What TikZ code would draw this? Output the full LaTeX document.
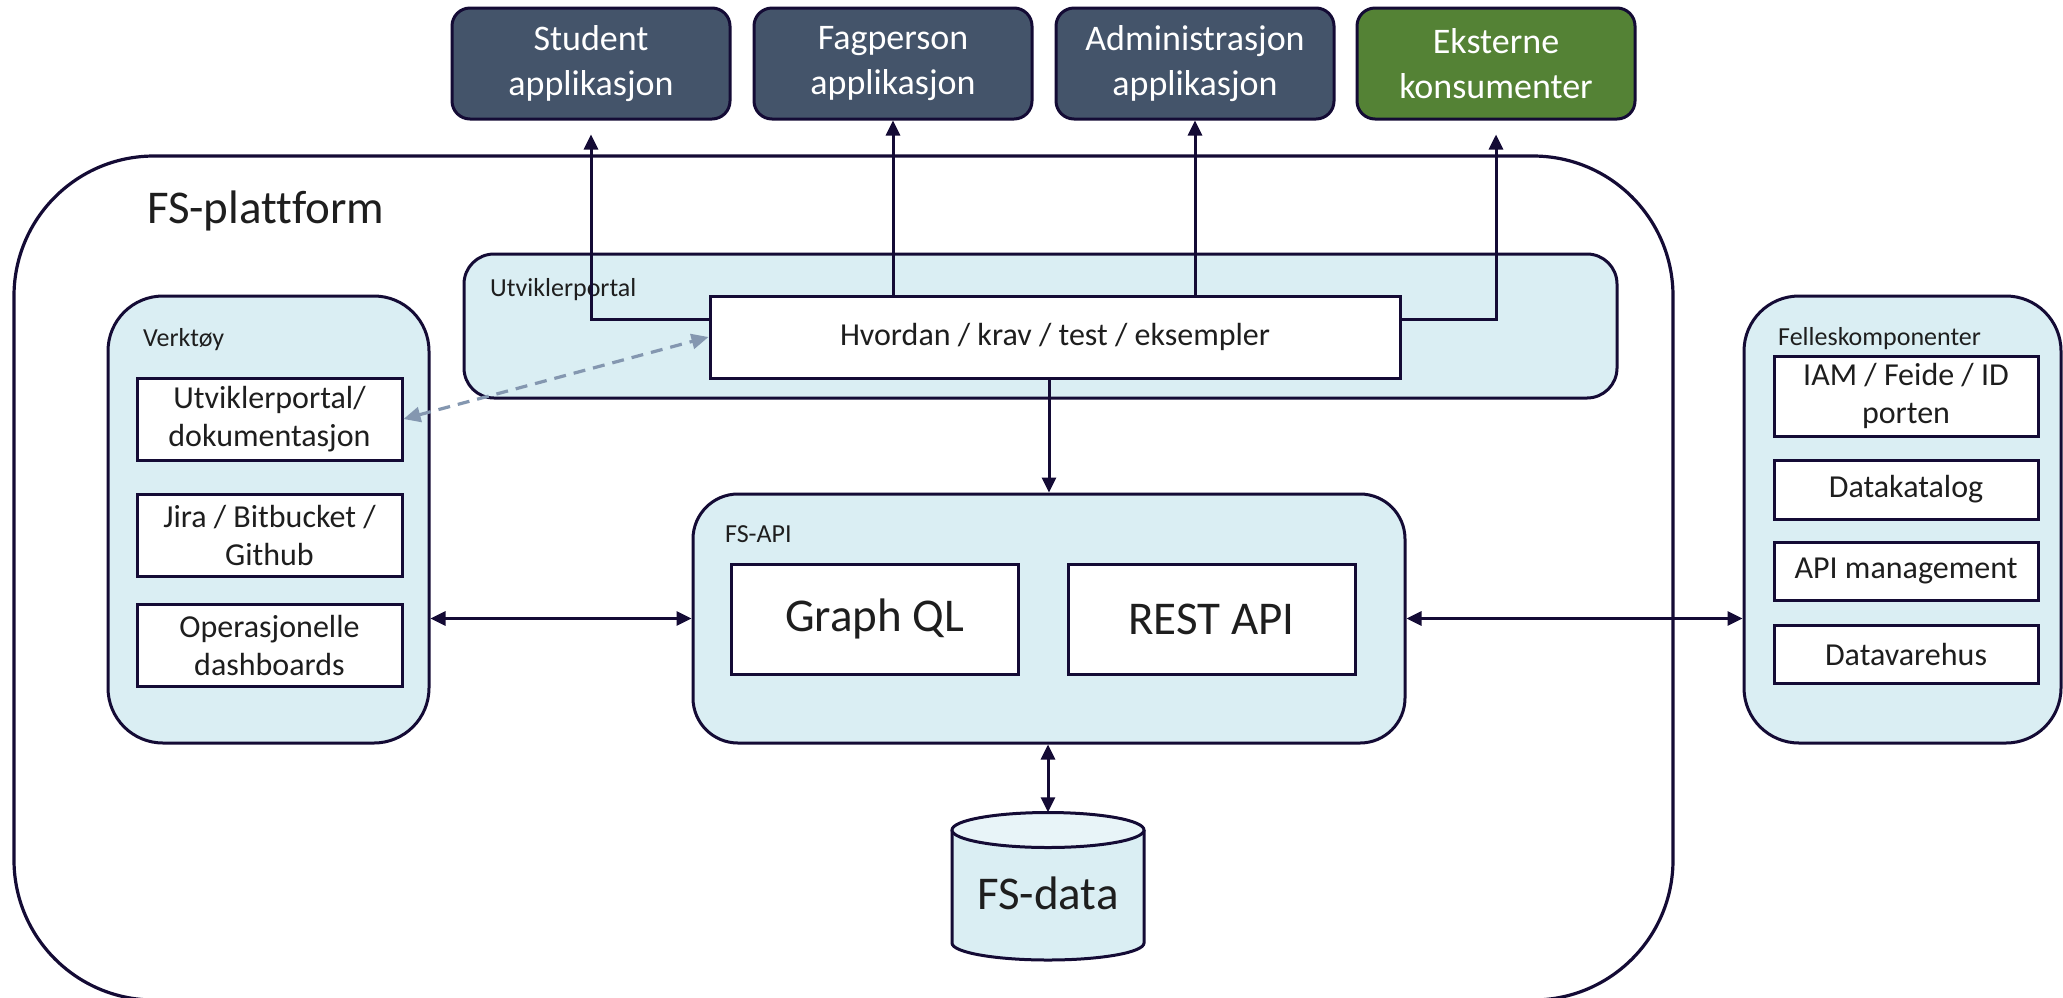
\documentclass[tikz,border=0pt]{standalone}
\usepackage{fontspec}
\setmainfont{Carlito}[Ligatures=NoCommon]
\usetikzlibrary{arrows.meta,calc}
\definecolor{linec}{HTML}{140B35}
\definecolor{slate}{HTML}{44546A}
\definecolor{grn}{HTML}{548235}
\definecolor{lightb}{HTML}{DAEEF3}
\definecolor{toplight}{HTML}{E8F4F8}
\definecolor{dashc}{HTML}{8497B0}
\definecolor{txt}{HTML}{1E1E1E}
\tikzset{
  outerbox/.style={draw=linec, line width=3.2pt, rounded corners=140pt, inner sep=0pt},
  groupbox/.style={draw=linec, fill=lightb, line width=3pt, inner sep=0pt},
  wbox/.style={draw=linec, fill=white, line width=3pt, inner sep=0pt, text=txt,
    font=\fontsize{32}{38}\selectfont, align=center},
  bigbox/.style={wbox, font=\fontsize{47}{56}\selectfont},
  appbox/.style={draw=linec, line width=3pt, rounded corners=18pt, inner sep=0pt,
    text=white, font=\fontsize{36}{45}\selectfont, align=center,
    minimum width=278pt, minimum height=111pt},
  grplabel/.style={anchor=west, inner sep=0pt, text=txt, font=\fontsize{26}{30}\selectfont},
  arr/.style={draw=linec, line width=3pt, -{Triangle[length=15pt,width=14pt]}},
  biarr/.style={draw=linec, line width=3pt, {Triangle[length=15pt,width=14pt]}-{Triangle[length=15pt,width=14pt]}},
  dasharr/.style={draw=dashc, line width=3.2pt, dash pattern=on 12pt off 8pt,
    {Triangle[length=17pt,width=15pt]}-{Triangle[length=17pt,width=15pt]}},
}
\begin{document}
\begin{tikzpicture}[x=1pt,y=1pt]
\useasboundingbox (0,0) rectangle (2063,-997);
\fill[white] (0,0) rectangle (2063,-997);

% outer platform
\node[outerbox, minimum width=1659pt, minimum height=844pt] (plattform) at (843.5,-578) {};
\node[anchor=base west, inner sep=0pt, text=txt, font=\fontsize{47}{56}\selectfont] (plattlbl) at (147,-223) {FS-plattform};

% top application boxes
\node[appbox, fill=slate] (student) at (591,-63.5) {Student\\applikasjon};
\node[appbox, fill=slate] (fag) at (893,-63.5) {Fagperson\\applikasjon};
\node[appbox, fill=slate] (admin) at (1195,-63.5) {Administrasjon\\applikasjon};
\node[appbox, fill=grn] (ekst) at (1496,-63.5) {Eksterne\\konsumenter};

% Utviklerportal
\node[groupbox, rounded corners=30pt, minimum width=1153pt, minimum height=144pt] (utv) at (1040.5,-326) {};
\node[grplabel] (utvlbl) at (490,-290) {Utviklerportal};
\node[wbox, minimum width=690pt, minimum height=82pt] (hv) at (1055,-337) {Hvordan / krav / test / eksempler};

% Verktøy
\node[groupbox, rounded corners=55pt, minimum width=321pt, minimum height=447pt] (verk) at (268.5,-519.5) {};
\node[grplabel] (verklbl) at (143,-340) {Verktøy};
\node[wbox, minimum width=265pt, minimum height=82pt] (doc) at (269.5,-419) {Utviklerportal/\\dokumentasjon};
\node[wbox, minimum width=265pt, minimum height=82pt] (jira) at (269.5,-535) {Jira / Bitbucket /\\Github};
\node[wbox, minimum width=265pt, minimum height=82pt] (ops) at (269.5,-645) {Operasjonelle\\dashboards};

% FS-API
\node[groupbox, rounded corners=45pt, minimum width=712pt, minimum height=249pt] (api) at (1049,-618.5) {};
\node[grplabel] (apilbl) at (725,-534) {FS-API};
\node[bigbox, minimum width=287pt, minimum height=110pt] (gql) at (874.5,-619) {Graph QL};
\node[bigbox, minimum width=287pt, minimum height=110pt] (rest) at (1211.5,-619) {REST API};

% Felleskomponenter
\node[groupbox, rounded corners=55pt, minimum width=317pt, minimum height=447pt] (felles) at (1902.5,-519.5) {};
\node[grplabel] (felleslbl) at (1778,-339) {Felleskomponenter};
\node[wbox, minimum width=264pt, minimum height=80pt] (iam) at (1906,-396) {IAM / Feide / ID\\porten};
\node[wbox, minimum width=264pt, minimum height=59pt] (katalog) at (1906,-489.5) {Datakatalog};
\node[wbox, minimum width=264pt, minimum height=58pt] (apim) at (1906,-571) {API management};
\node[wbox, minimum width=264pt, minimum height=58pt] (dvh) at (1906,-654) {Datavarehus};

% FS-data cylinder
\fill[lightb] (952,-830) -- (952,-943) arc[start angle=180,end angle=360,x radius=96pt,y radius=17pt] -- (1144,-830) -- cycle;
\draw[linec, line width=3pt] (952,-830) -- (952,-943) arc[start angle=180,end angle=360,x radius=96pt,y radius=17pt] -- (1144,-830);
\filldraw[fill=toplight, draw=linec, line width=3pt] (1048,-830) ellipse [x radius=96pt, y radius=17.5pt];
\node[inner sep=0pt, minimum width=192pt, minimum height=148pt] (fsdata) at (1048,-886.5) {};
\node[inner sep=0pt, text=txt, font=\fontsize{47}{56}\selectfont] (fsdatalbl) at (1048,-893) {FS-data};

% connectors
\draw[arr] ([yshift=18pt]hv.west) -| ([yshift=-14pt]student.south);
\draw[arr] (fag.south |- hv.north) -- (fag.south);
\draw[arr] (admin.south |- hv.north) -- (admin.south);
\draw[arr] ([yshift=18pt]hv.east) -| ([yshift=-14pt]ekst.south);
\draw[arr] (hv.south -| api.north) -- (api.north);
\draw[dasharr] (doc.east) -- (hv.west);
\draw[biarr] (verk.east |- api.west) -- (api.west);
\draw[biarr] (api.east) -- (felles.west |- api.east);
\draw[biarr] (api.south -| fsdata.north) -- (fsdata.north);
\end{tikzpicture}
\end{document}
